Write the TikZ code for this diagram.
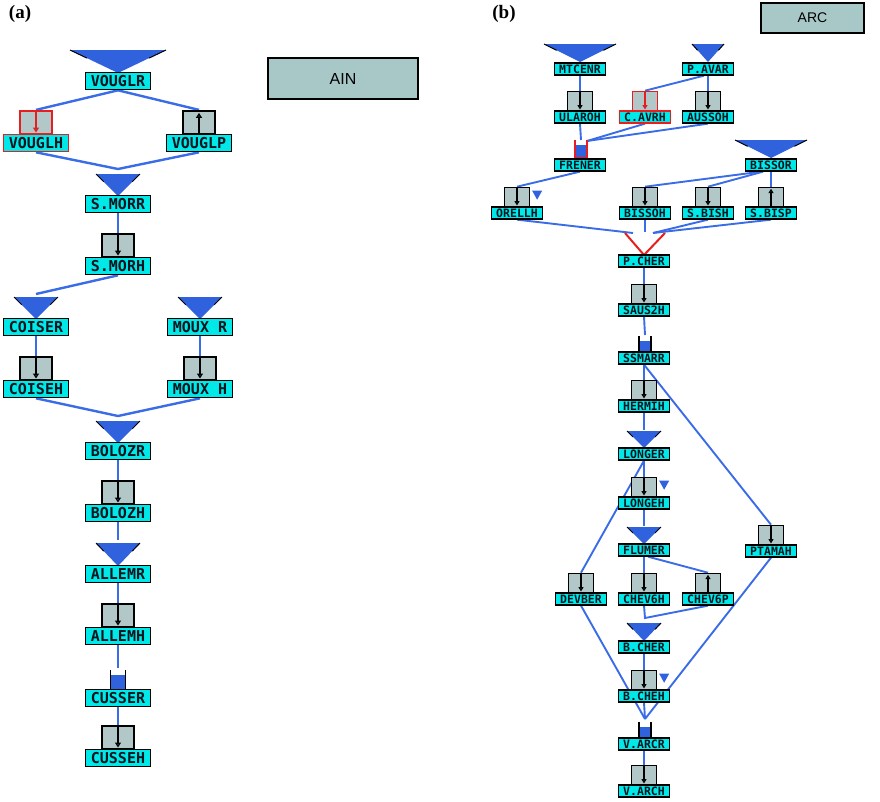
\documentclass[tikz,border=0pt]{standalone}
\usepackage{fontspec}
\setmainfont{Liberation Serif}
\newfontfamily\lblfont{DejaVu Sans Mono}
\newfontfamily\boxfont{Liberation Sans}
\usetikzlibrary{arrows.meta,calc}

\definecolor{lblcyan}{RGB}{0,232,232}
\definecolor{gaugegray}{RGB}{178,200,200}
\definecolor{panelgray}{RGB}{168,200,200}
\definecolor{linkblue}{RGB}{58,108,232}
\definecolor{resblue}{RGB}{48,98,222}
\definecolor{alertred}{RGB}{232,30,30}
\definecolor{textdark}{RGB}{10,20,30}

\pgfdeclarelayer{back}
\pgfsetlayers{back,main}

\tikzset{
  lblA/.style={draw=black, line width=1.6pt, fill=lblcyan, minimum width=65pt,
    minimum height=17pt, inner sep=0pt, text=textdark,
    font=\lblfont\bfseries\fontsize{15}{15}\selectfont},
  lblB/.style={draw=black, line width=1.3pt, fill=lblcyan, minimum width=51pt,
    minimum height=12pt, inner sep=0pt, text=textdark,
    font=\lblfont\bfseries\fontsize{11.5}{11.5}\selectfont},
  gsqA/.style={draw=black, line width=1.6pt, fill=gaugegray, minimum width=32pt,
    minimum height=23pt, inner sep=0pt, anchor=south},
  gsqB/.style={draw=black, line width=1.3pt, fill=gaugegray, minimum width=25pt,
    minimum height=19pt, inner sep=0pt, anchor=south},
  linkA/.style={draw=linkblue, line width=2.4pt},
  linkB/.style={draw=linkblue, line width=1.9pt},
  garrA/.style={line width=1.4pt, -{Triangle[width=6pt,length=5pt,fill=resblue]}},
  garrB/.style={line width=1.2pt, -{Triangle[width=5pt,length=4.5pt,fill=resblue]}},
  panelbox/.style={draw=black, line width=1.6pt, fill=panelgray, inner sep=0pt,
    text=black},
  tag/.style={font=\bfseries\fontsize{19}{19}\selectfont, inner sep=0pt}
}

% reservoir: blue funnel with dark upper ends; {x}{apex y}{half width}{height}
\newcommand\restri[4]{%
  \fill[resblue] (#1,#2) -- (#1-#3,#2-#4) -- (#1+#3,#2-#4) -- cycle;
  \draw[black, line width=1pt] (#1-#3,#2-#4) -- ($(#1-#3,#2-#4)!0.35!(#1,#2)$);
  \draw[black, line width=1pt] (#1+#3,#2-#4) -- ($(#1+#3,#2-#4)!0.35!(#1,#2)$);}

% open tank: [edge]{x}{top}{bottom}{half width}
\newcommand\stbucket[5][black]{%
  \fill[resblue] (#2-#5,#3+5) rectangle (#2+#5,#4);
  \draw[#1, line width=1.5pt] (#2-#5,#3) -- (#2-#5,#4) -- (#2+#5,#4) -- (#2+#5,#3);}

% gauge station: [edge]{name}{x}{y}{label}
\newcommand\gaugeboxA[5][black]{%
  \node[gsqA, draw=#1] (#2-g) at (#3,#4-8.5) {};
  \node[lblA, draw=#1] (#2) at (#3,#4) {#5};}
\newcommand\gaugeboxB[5][black]{%
  \node[gsqB, draw=#1] (#2-g) at (#3,#4-6) {};
  \node[lblB, draw=#1] (#2) at (#3,#4) {#5};}

% flow arrows inside gauges
\newcommand\arrdownA[2][black]{\draw[garrA, draw=#1] ([yshift=-1pt]#2-g.north) -- ([yshift=2pt]#2-g.south);}
\newcommand\arrupA[2][black]{\draw[garrA, draw=#1] ([yshift=1pt]#2-g.south) -- ([yshift=-3pt]#2-g.north);}
\newcommand\arrdownB[2][black]{\draw[garrB, draw=#1] ([yshift=-1pt]#2-g.north) -- ([yshift=1.5pt]#2-g.south);}
\newcommand\arrupB[2][black]{\draw[garrB, draw=#1] ([yshift=1pt]#2-g.south) -- ([yshift=-2pt]#2-g.north);}

% small marker beside a gauge
\newcommand\smalltri[1]{\fill[resblue] ([shift={(2pt,-4pt)}]#1-g.north east) -- ++(10,0) -- ++(-5,9) -- cycle;}

\begin{document}
\begin{tikzpicture}[x=1pt,y=-1pt]
\useasboundingbox (0,0) rectangle (880,801);

% ---------- panel (a): AIN ----------
\node[tag] (taga) at (20,14) {(a)};
\node[panelbox, minimum width=150pt, minimum height=41pt,
  font=\boxfont\fontsize{16}{16}\selectfont] (ain) at (343,78.5) {AIN};

\restri{118}{73}{48}{23}
\node[lblA] (vouglr) at (118,81) {VOUGLR};
\gaugeboxA[alertred]{vouglh}{36}{143}{VOUGLH}
\gaugeboxA{vouglp}{199}{143}{VOUGLP}
\restri{118}{196}{22}{22}
\node[lblA] (smorr) at (118,204) {S.MORR};
\gaugeboxA{smorh}{118}{266}{S.MORH}
\restri{36}{319}{22}{22}
\node[lblA] (coiser) at (36,327) {COISER};
\restri{200}{319}{22}{22}
\node[lblA] (mouxr) at (200,327) {MOUX R};
\gaugeboxA{coiseh}{36}{389}{COISEH}
\gaugeboxA{mouxh}{200}{389}{MOUX H}
\restri{118}{443}{22}{22}
\node[lblA] (bolozr) at (118,451) {BOLOZR};
\gaugeboxA{bolozh}{118}{513}{BOLOZH}
\restri{118}{566}{22}{23}
\node[lblA] (allemr) at (118,574) {ALLEMR};
\gaugeboxA{allemh}{118}{636}{ALLEMH}
\stbucket{118}{670}{689.5}{7.5}
\node[lblA] (cusser) at (118,698) {CUSSER};
\gaugeboxA{cusseh}{118}{758}{CUSSEH}

\arrdownA[alertred]{vouglh}
\arrupA{vouglp}
\arrdownA{smorh}
\arrdownA{coiseh}
\arrdownA{mouxh}
\arrdownA{bolozh}
\arrdownA{allemh}
\arrdownA{cusseh}

% ---------- panel (b): ARC ----------
\node[tag] (tagb) at (504,14) {(b)};
\node[panelbox, minimum width=103pt, minimum height=30pt,
  font=\boxfont\fontsize{14}{14}\selectfont] (arc) at (812.5,18) {ARC};

\restri{580}{62}{36}{18}
\node[lblB] (mtcenr) at (580,69) {MTCENR};
\restri{708}{62}{16}{18}
\node[lblB] (pavar) at (708,69) {P.AVAR};
\gaugeboxB{ularoh}{580}{117}{ULAROH}
\gaugeboxB[alertred]{cavrh}{645}{117}{C.AVRH}
\gaugeboxB{aussoh}{708}{117}{AUSSOH}
\stbucket[alertred]{581}{140}{158}{6}
\node[lblB] (frener) at (580,165) {FRENER};
\restri{771}{158}{36}{18}
\node[lblB] (bissor) at (771,165) {BISSOR};
\gaugeboxB{orellh}{517}{213}{ORELLH}
\gaugeboxB{bissoh}{645}{213}{BISSOH}
\gaugeboxB{sbish}{708}{213}{S.BISH}
\gaugeboxB{sbisp}{771}{213}{S.BISP}
\draw[alertred, line width=2pt] (625,233) -- (644,255) -- (665,233);
\node[lblB] (pcher) at (644,261) {P.CHER};
\gaugeboxB{saus2h}{644}{310}{SAUS2H}
\stbucket{645}{336}{352}{6}
\node[lblB] (ssmarr) at (644,358) {SSMARR};
\gaugeboxB{hermih}{644}{406}{HERMIH}
\restri{644}{448}{17}{17}
\node[lblB] (longer) at (644,454) {LONGER};
\gaugeboxB{longeh}{644}{503}{LONGEH}
\restri{644}{544}{17}{17}
\node[lblB] (flumer) at (644,550) {FLUMER};
\gaugeboxB{ptamah}{771}{551}{PTAMAH}
\gaugeboxB{devber}{581}{599}{DEVBER}
\gaugeboxB{chev6h}{644}{599}{CHEV6H}
\gaugeboxB{chev6p}{708}{599}{CHEV6P}
\restri{644}{641}{17}{18}
\node[lblB] (bcher) at (644,647) {B.CHER};
\gaugeboxB{bcheh}{644}{696}{B.CHEH}
\stbucket{645}{722}{737.5}{6}
\node[lblB] (varcr) at (644,744) {V.ARCR};
\gaugeboxB{varch}{644}{791}{V.ARCH}

\arrdownB{ularoh}
\arrdownB[alertred]{cavrh}
\arrdownB{aussoh}
\arrdownB{orellh}
\arrdownB{bissoh}
\arrdownB{sbish}
\arrupB{sbisp}
\arrdownB{saus2h}
\arrdownB{hermih}
\arrdownB{longeh}
\arrdownB{ptamah}
\arrdownB{devber}
\arrdownB{chev6h}
\arrupB{chev6p}
\arrdownB{bcheh}
\arrdownB{varch}
\smalltri{orellh}
\smalltri{longeh}
\smalltri{bcheh}

% ---------- connectors ----------
\begin{pgfonlayer}{back}
  % panel (a)
  \coordinate (ja1) at (118,169);
  \coordinate (ja2) at (36,294);
  \coordinate (ja3) at (118,416);
  \coordinate (ja4) at (118,540);
  \coordinate (ja5) at (118,668);
  \draw[linkA] (vouglr.south) -- (vouglh-g.north);
  \draw[linkA] (vouglr.south) -- (vouglp-g.north);
  \draw[linkA] (vouglh.south) -- (ja1) -- (vouglp.south);
  \draw[linkA] (smorr.south) -- (smorh-g.north);
  \draw[linkA] (smorh.south) -- (ja2);
  \draw[linkA] (coiser.south) -- (coiseh-g.north);
  \draw[linkA] (mouxr.south) -- (mouxh-g.north);
  \draw[linkA] (coiseh.south) -- (ja3) -- (mouxh.south);
  \draw[linkA] (bolozr.south) -- (bolozh-g.north);
  \draw[linkA] (bolozh.south) -- (ja4);
  \draw[linkA] (allemr.south) -- (allemh-g.north);
  \draw[linkA] (allemh.south) -- (ja5);
  \draw[linkA] (cusser.south) -- (cusseh-g.north);
  % panel (b)
  \coordinate (jb1) at (581,140);
  \coordinate (jb1r) at (587,141);
  \coordinate (pvl) at (633,233);
  \coordinate (pvm) at (645,232);
  \coordinate (pvr) at (653,233);
  \coordinate (jss) at (645,335);
  \coordinate (jlo) at (644,430);
  \coordinate (jfl) at (644,526);
  \coordinate (jch) at (645,618);
  \coordinate (jva) at (645,719);
  \draw[linkB] (mtcenr.south) -- (ularoh-g.north);
  \draw[linkB] (pavar.south) -- (aussoh-g.north);
  \draw[linkB] ([xshift=-4pt]pavar.south) -- (cavrh-g.north);
  \draw[linkB] (ularoh.south) -- (jb1);
  \draw[linkB] (cavrh.south) -- (jb1r);
  \draw[linkB] (aussoh.south) -- (jb1r);
  \draw[linkB] ([xshift=-10pt]bissor.south) -- (bissoh-g.north);
  \draw[linkB] ([xshift=-8pt]bissor.south) -- (sbish-g.north);
  \draw[linkB] (bissor.south) -- (sbisp-g.north);
  \draw[linkB] (frener.south) -- (orellh-g.north);
  \draw[linkB] (orellh.south) -- (pvl);
  \draw[linkB] (bissoh.south) -- (pvm);
  \draw[linkB] (sbish.south) -- (pvr);
  \draw[linkB] (sbisp.south) -- (pvr);
  \draw[linkB] (pcher.south) -- (saus2h-g.north);
  \draw[linkB] (saus2h.south) -- (jss);
  \draw[linkB] (ssmarr.south) -- (hermih-g.north);
  \draw[linkB] (ssmarr.south) -- (ptamah-g.north);
  \draw[linkB] (hermih.south) -- (jlo);
  \draw[linkB] (longer.south) -- (longeh-g.north);
  \draw[linkB] (longer.south) -- (devber-g.north);
  \draw[linkB] (longeh.south) -- (jfl);
  \draw[linkB] (flumer.south) -- (chev6h-g.north);
  \draw[linkB] ([xshift=4pt]flumer.south) -- (chev6p-g.north);
  \draw[linkB] (chev6h.south) -- (jch) -- (chev6p.south);
  \draw[linkB] (bcher.south) -- (bcheh-g.north);
  \draw[linkB] (bcheh.south) -- (jva);
  \draw[linkB] (devber.south) -- (jva);
  \draw[linkB] (ptamah.south) -- (jva);
  \draw[linkB] (varcr.south) -- (varch-g.north);
\end{pgfonlayer}
\end{tikzpicture}
\end{document}
